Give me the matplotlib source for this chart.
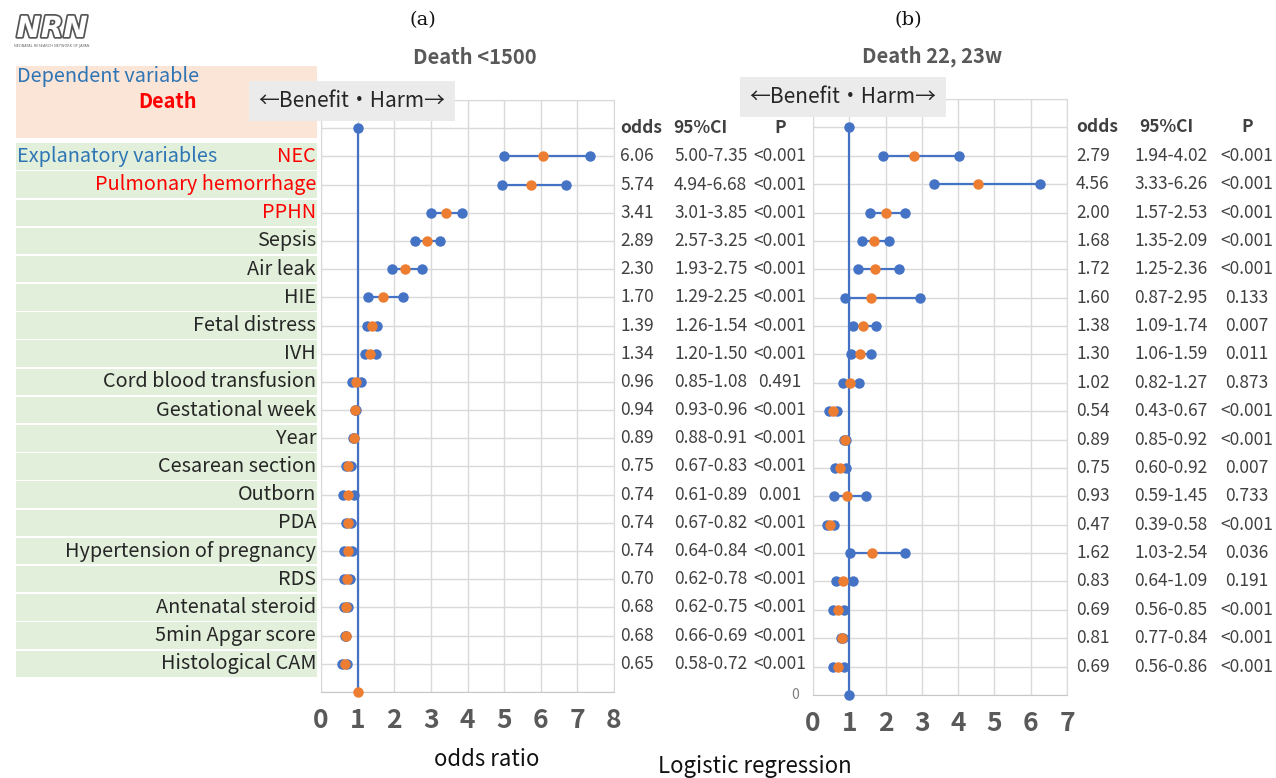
import matplotlib
matplotlib.use("Agg")
import matplotlib.pyplot as plt
import matplotlib.transforms as mtransforms
import matplotlib.patheffects as pe

plt.rcParams['font.family'] = ['Noto Sans CJK JP', 'DejaVu Sans']

# ---- data ----
variables = ['NEC', 'Pulmonary hemorrhage', 'PPHN', 'Sepsis', 'Air leak', 'HIE',
             'Fetal distress', 'IVH', 'Cord blood transfusion', 'Gestational week',
             'Year', 'Cesarean section', 'Outborn', 'PDA',
             'Hypertension of pregnancy', 'RDS', 'Antenatal steroid',
             '5min Apgar score', 'Histological CAM']
red_vars = ['NEC', 'Pulmonary hemorrhage', 'PPHN']

odds_a = [6.06, 5.74, 3.41, 2.89, 2.30, 1.70, 1.39, 1.34, 0.96, 0.94,
          0.89, 0.75, 0.74, 0.74, 0.74, 0.70, 0.68, 0.68, 0.65]
lo_a = [5.00, 4.94, 3.01, 2.57, 1.93, 1.29, 1.26, 1.20, 0.85, 0.93,
        0.88, 0.67, 0.61, 0.67, 0.64, 0.62, 0.62, 0.66, 0.58]
hi_a = [7.35, 6.68, 3.85, 3.25, 2.75, 2.25, 1.54, 1.50, 1.08, 0.96,
        0.91, 0.83, 0.89, 0.82, 0.84, 0.78, 0.75, 0.69, 0.72]
p_a = ['<0.001', '<0.001', '<0.001', '<0.001', '<0.001', '<0.001', '<0.001',
       '<0.001', '0.491', '<0.001', '<0.001', '<0.001', '0.001', '<0.001',
       '<0.001', '<0.001', '<0.001', '<0.001', '<0.001']

odds_b = [2.79, 4.56, 2.00, 1.68, 1.72, 1.60, 1.38, 1.30, 1.02, 0.54,
          0.89, 0.75, 0.93, 0.47, 1.62, 0.83, 0.69, 0.81, 0.69]
lo_b = [1.94, 3.33, 1.57, 1.35, 1.25, 0.87, 1.09, 1.06, 0.82, 0.43,
        0.85, 0.60, 0.59, 0.39, 1.03, 0.64, 0.56, 0.77, 0.56]
hi_b = [4.02, 6.26, 2.53, 2.09, 2.36, 2.95, 1.74, 1.59, 1.27, 0.67,
        0.92, 0.92, 1.45, 0.58, 2.54, 1.09, 0.85, 0.84, 0.86]
p_b = ['<0.001', '<0.001', '<0.001', '<0.001', '<0.001', '0.133', '0.007',
       '0.011', '0.873', '<0.001', '<0.001', '0.007', '0.733', '<0.001',
       '0.036', '0.191', '<0.001', '<0.001', '<0.001']

xticks_a = list(range(0, 9))
xticks_b = list(range(0, 8))

BLUE = '#4472c4'
ORANGE = '#ed7d31'
GRID = '#d9d9d9'
TXT = '#404040'

W, H = 1276, 778


def box(x0, y0, x1, y1):
    return [x0 / W, 1 - y1 / H, (x1 - x0) / W, (y1 - y0) / H]


fig = plt.figure(figsize=(W / 100, H / 100), dpi=100)
nrows = len(variables)


def forest(ax, odds, lo, hi, ticks, bottom_color):
    ax.set_xlim(ticks[0], ticks[-1])
    ax.set_ylim(nrows + 1, -1)
    ax.set_xticks(ticks)
    ax.set_xticklabels([str(t) for t in ticks], fontsize=19, fontweight='bold',
                       color='#595959')
    ax.set_yticks(range(-1, nrows + 2))
    ax.set_yticklabels([])
    ax.tick_params(length=0, pad=11)
    ax.grid(True, color=GRID, lw=1)
    ax.set_axisbelow(True)
    for s in ax.spines.values():
        s.set_color(GRID)
    ax.spines['bottom'].set_color('#c8c8c8')
    # reference line at OR = 1
    ax.plot([1, 1], [0, nrows + 1], color=BLUE, lw=1.6, zorder=3, clip_on=False)
    ax.plot([1], [0], 'o', color=BLUE, ms=6.5, zorder=4, clip_on=False)
    ax.plot([1], [nrows + 1], 'o', color=bottom_color, ms=6.5, zorder=4, clip_on=False)
    for i in range(nrows):
        r = i + 1
        ax.plot([lo[i], hi[i]], [r, r], '-o', color=BLUE, lw=1.6, ms=6.5, zorder=4)
        ax.plot([odds[i]], [r], 'o', color=ORANGE, ms=6.5, zorder=5)


def table(ax, odds, lo, hi, p, x_odds, x_ci, x_ci_head, x_p):
    tr = mtransforms.blended_transform_factory(fig.transFigure, ax.transData)
    kw = dict(transform=tr, va='center', fontsize=12.5, color=TXT, clip_on=False)
    ax.text(x_odds / W, 0, 'odds', ha='left', fontweight='bold', **kw)
    ax.text(x_ci_head / W, 0, '95%CI', ha='center', fontweight='bold', **kw)
    ax.text(x_p / W, 0, 'P', ha='center', fontweight='bold', **kw)
    for i in range(nrows):
        r = i + 1
        ax.text(x_odds / W, r, f'{odds[i]:.2f}', ha='left', **kw)
        ax.text(x_ci / W, r, f'{lo[i]:.2f}-{hi[i]:.2f}', ha='left', **kw)
        ax.text(x_p / W, r, p[i], ha='center', **kw)


# ---- panel (a) ----
ax_a = fig.add_axes(box(321, 100, 614, 692))
forest(ax_a, odds_a, lo_a, hi_a, xticks_a, ORANGE)
table(ax_a, odds_a, lo_a, hi_a, p_a, 620, 674, 700, 780)

# ---- panel (b) ----
ax_b = fig.add_axes(box(813, 99, 1067, 695))
forest(ax_b, odds_b, lo_b, hi_b, xticks_b, BLUE)
table(ax_b, odds_b, lo_b, hi_b, p_b, 1076, 1134, 1166, 1247)
ax_b.text(-0.07, nrows + 1, '0', transform=mtransforms.blended_transform_factory(
    ax_b.transAxes, ax_b.transData), ha='center', va='center', fontsize=10,
    color='#7f7f7f')

# ---- left label column ----
lab = fig.add_axes(box(16, 100, 317, 692))
lab.set_xlim(0, 1)
lab.set_ylim(nrows + 1, -1)
lab.axis('off')
rows = list(range(1, nrows + 1))
lab.barh(rows, [1] * nrows, left=0, height=0.94, color='#e2efda', clip_on=False)
lab.barh([-0.93], [1], left=0, height=2.55, color='#fbe5d6', clip_on=False)
for r, name in zip(rows, variables):
    lab.text(0.997, r, name, ha='right', va='center', fontsize=14.3,
             color='#ff0000' if name in red_vars else '#262626')
lab.text(0.004, -1.85, 'Dependent variable', ha='left', va='center',
         fontsize=14.3, color='#2e75b6')
lab.text(0.6, -0.95, 'Death', ha='right', va='center', fontsize=14.3,
         fontweight='bold', color='#ff0000')
lab.text(0.004, 1, 'Explanatory variables', ha='left', va='center',
         fontsize=14.3, color='#2e75b6')

# ---- titles, annotations ----
fig.text(423 / W, 1 - 20 / H, '(a)', ha='center', va='center',
         family='DejaVu Serif', fontsize=14, color='#111111')
fig.text(908 / W, 1 - 20 / H, '(b)', ha='center', va='center',
         family='DejaVu Serif', fontsize=14, color='#111111')
fig.text(475 / W, 1 - 58 / H, 'Death <1500', ha='center', va='center',
         fontsize=14.5, fontweight='bold', color='#595959')
fig.text(932 / W, 1 - 56 / H, 'Death 22, 23w', ha='center', va='center',
         fontsize=14.5, fontweight='bold', color='#595959')

bbox = dict(boxstyle='square,pad=0.45', facecolor='#ebebeb', edgecolor='none')
fig.text(352 / W, 1 - 101 / H, '←Benefit・Harm→', ha='center', va='center',
         fontsize=15, color='#262626', bbox=bbox, zorder=10)
fig.text(843 / W, 1 - 97 / H, '←Benefit・Harm→', ha='center', va='center',
         fontsize=15, color='#262626', bbox=bbox, zorder=10)

fig.text(487 / W, 1 - 760 / H, 'odds ratio', ha='center', va='center',
         fontsize=16, color='#111111')
fig.text(755 / W, 1 - 766 / H, 'Logistic regression', ha='center', va='center',
         fontsize=16, color='#111111')

# logo
logo = fig.text(52 / W, 1 - 29 / H, 'NRN', ha='center', va='center',
                fontsize=21, fontweight='bold', style='italic',
                family='DejaVu Sans', color='white')
logo.set_path_effects([pe.withStroke(linewidth=2.5, foreground='#555555')])
fig.text(52 / W, 1 - 46 / H, 'NEONATAL RESEARCH NETWORK OF JAPAN', ha='center',
         va='center', fontsize=2.5, color='#666666', family='DejaVu Sans')

fig.savefig('out.png', dpi=100, facecolor='white')
